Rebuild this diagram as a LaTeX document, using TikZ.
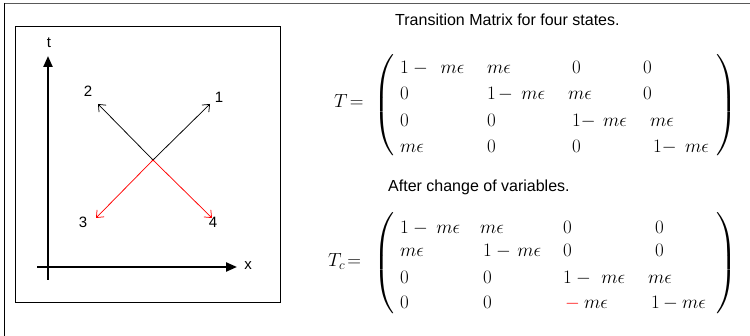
\RequirePackage{fix-cm}
\documentclass[tikz,border=0pt]{standalone}
\usepackage{amsmath,amssymb}
\usepackage{fontspec}
\newfontfamily\labfont{Liberation Sans}
\usetikzlibrary{arrows.meta}

\begin{document}
\begin{tikzpicture}[x=1pt, y=-1pt,
	lab/.style={font=\labfont\fontsize{15}{17}\selectfont, inner sep=0pt},
	ttl/.style={font=\labfont\fontsize{16}{18}\selectfont, anchor=base west, inner sep=0pt},
	ent/.style={font=\fontsize{19}{22}\selectfont, anchor=base west, inner sep=0pt},
	brk/.style={font=\fontsize{24}{28}\selectfont, inner sep=0pt},
	axis/.style={line width=2.2pt, -{Triangle[length=11pt,width=9pt]}},
	move/.style={line width=0.75pt, -{Straight Barb[length=6pt,width=10pt]}}]
	\useasboundingbox (0,0) rectangle (750,336);
	% frame
	\draw[line width=1.8pt, black!65] (4,3.5) -- (750,3.5);
	\draw[line width=1pt] (4.5,3) -- (4.5,336);
	\draw[line width=0.9pt] (15,26) rectangle (280,302);
	% axes
	\coordinate (t0) at (48,280);
	\coordinate (t1) at (48,56);
	\coordinate (x0) at (37,267);
	\coordinate (x1) at (237,267);
	\draw[axis] (t0) -- (t1);
	\draw[axis] (x0) -- (x1);
	\node[lab] (tl) at (49,43) {t};
	\node[lab] (xl) at (248,266) {x};
	% four moves from the crossing
	\coordinate (o) at (153,160);
	\coordinate (p1) at (210,104);
	\coordinate (p2) at (98,104);
	\coordinate (p3) at (96,218);
	\coordinate (p4) at (212,218);
	\draw[move] (o) -- (p1);
	\draw[move] (o) -- (p2);
	\draw[move, red] (o) -- (p3);
	\draw[move, red] (o) -- (p4);
	\node[lab] (l1) at (219,97) {1};
	\node[lab] (l2) at (88,91) {2};
	\node[lab] (l3) at (83,222) {3};
	\node[lab] (l4) at (213,222) {4};
	% matrix T
	\node[ttl] (ttlT) at (395,26) {Transition Matrix for four states.};
	\node[ent] (T) at (334,108) {$T\!=$};
	\node[brk] (TL) at (385,105) {$\left(\vcenter{\hrule height 47pt depth 47pt width 0pt}\right.$};
	\node[brk] (TR) at (726,105) {$\left.\vcenter{\hrule height 47pt depth 47pt width 0pt}\right)$};
	\node[ent] (a11) at (400,74) {$1\mkern4mu{-}\mkern12mu m\epsilon$};
	\node[ent] (a12) at (487,74) {$m\epsilon$};
	\node[ent] (a13) at (572,74) {$0$};
	\node[ent] (a14) at (643,74) {$0$};
	\node[ent] (a21) at (400,100) {$0$};
	\node[ent] (a22) at (487,100) {$1\mkern2mu{-}\mkern8mu m\epsilon$};
	\node[ent] (a23) at (568,100) {$m\epsilon$};
	\node[ent] (a24) at (643,100) {$0$};
	\node[ent] (a31) at (400,127) {$0$};
	\node[ent] (a32) at (487,127) {$0$};
	\node[ent] (a33) at (572,127) {$1{-}\mkern7mu m\epsilon$};
	\node[ent] (a34) at (650,127) {$m\epsilon$};
	\node[ent] (a41) at (400,153) {$m\epsilon$};
	\node[ent] (a42) at (487,153) {$0$};
	\node[ent] (a43) at (572,153) {$0$};
	\node[ent] (a44) at (653,153) {$1{-}\mkern8mu m\epsilon$};
	% matrix T_c
	\node[ttl] (ttlC) at (388,192) {After change of variables.};
	\node[ent] (Tc) at (328,267) {$T_c\!=$};
	\node[brk] (CL) at (385,263) {$\left(\vcenter{\hrule height 50pt depth 50pt width 0pt}\right.$};
	\node[brk] (CR) at (726,263) {$\left.\vcenter{\hrule height 50pt depth 50pt width 0pt}\right)$};
	\node[ent] (c11) at (400,234) {$1\mkern4mu{-}\mkern8mu m\epsilon$};
	\node[ent] (c12) at (480,234) {$m\epsilon$};
	\node[ent] (c13) at (563,234) {$0$};
	\node[ent] (c14) at (655,234) {$0$};
	\node[ent] (c21) at (400,257) {$m\epsilon$};
	\node[ent] (c22) at (483,257) {$1\mkern4mu{-}\mkern6mu m\epsilon$};
	\node[ent] (c23) at (563,257) {$0$};
	\node[ent] (c24) at (655,257) {$0$};
	\node[ent] (c31) at (400,284) {$0$};
	\node[ent] (c32) at (483,284) {$0$};
	\node[ent] (c33) at (563,284) {$1\mkern4mu{-}\mkern10mu m\epsilon$};
	\node[ent] (c34) at (648,284) {$m\epsilon$};
	\node[ent] (c41) at (400,309) {$0$};
	\node[ent] (c42) at (483,309) {$0$};
	\node[ent] (c43) at (565,309) {$\mathord{\color{red}-}\mkern4mu m\epsilon$};
	\node[ent] (c44) at (651,309) {$1\mkern3mu{-}\mkern4mu m\epsilon$};
\end{tikzpicture}
\end{document}
